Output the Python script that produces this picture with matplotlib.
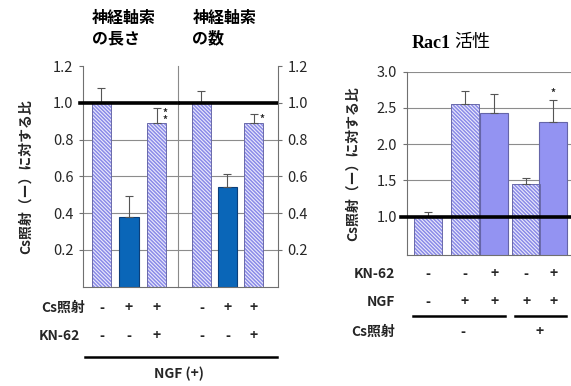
import matplotlib
matplotlib.use("Agg")
import matplotlib.pyplot as plt
from matplotlib.transforms import blended_transform_factory

plt.rcParams['font.family'] = ['Noto Sans CJK JP', 'DejaVu Sans']
plt.rcParams['hatch.linewidth'] = 1.1

# 神経軸索の長さ / 数 (NGF+)
len_vals = [1.0, 0.378, 0.889]
len_err = [0.083, 0.116, 0.084]
num_vals = [1.0, 0.54, 0.889]
num_err = [0.065, 0.073, 0.048]
cs_left = ['-', '+', '+']
kn_left = ['-', '-', '+']
left_hatched = [True, False, True]

# Rac1 活性
rac_vals = [1.0, 2.56, 2.43, 1.45, 2.30]
rac_err = [0.07, 0.175, 0.26, 0.08, 0.305]
rac_hatched = [True, True, False, True, False]
kn_right = ['-', '-', '+', '-', '+']
ngf_right = ['-', '+', '+', '+', '+']
cs_right = ['-', '+']

W, H = 571, 386
fig = plt.figure(figsize=(W / 100, H / 100), dpi=100)


def box(l, t, r, b):
    return [l / W, 1 - b / H, (r - l) / W, (b - t) / H]


def fy(py):
    return 1 - py / H


HATCH_C = '#8a8ae8'
HATCH_FACE = '#ececfb'
HATCH_EDGE = '#6a6aaa'
GRID_C = '#8c8c8c'
SPINE_C = '#707070'
TXT = '#262626'


def draw_bars(ax, xs, vals, errs, hatched, solid_c, solid_edge, width):
    for x, v, h in zip(xs, vals, hatched):
        if h:
            ax.bar(x, v, width, color=HATCH_FACE, edgecolor=HATCH_C, hatch='\\' * 9,
                   linewidth=0, zorder=2)
            ax.bar(x, v, width, fill=False, edgecolor=HATCH_EDGE, linewidth=0.7, zorder=3)
        else:
            ax.bar(x, v, width, color=solid_c, edgecolor=solid_edge, linewidth=0.8, zorder=2)
    ax.errorbar(xs, vals, yerr=[[0] * len(vals), errs], fmt='none', ecolor='#555555',
                elinewidth=0.8, capsize=3, capthick=0.8, zorder=4)


# ---- left chart ----
ax1 = fig.add_axes(box(83, 66, 178, 286.7))
ax2 = fig.add_axes(box(178, 66, 278, 286.7), sharey=ax1)
ax2.patch.set_alpha(0)
xs = [0, 1, 2]
ax1.set_xlim(-0.67, 2.78)
ax2.set_xlim(-0.9, 2.94)
ax1.set_ylim(0, 1.2)
draw_bars(ax1, xs, len_vals, len_err, left_hatched, '#0a66b8', '#0b3f7a', 0.7)
draw_bars(ax2, xs, num_vals, num_err, left_hatched, '#0a66b8', '#0b3f7a', 0.73)

for ax in (ax1, ax2):
    for g in [0.2, 0.4, 0.6, 0.8]:
        ax.axhline(g, color=GRID_C, lw=0.8, zorder=1)
    ax.set_xticks([])
    ax.spines['top'].set_visible(False)
    ax.spines['bottom'].set_color(SPINE_C)
    ax.tick_params(axis='y', direction='out', length=3, color=SPINE_C, labelsize=10.5,
                   labelcolor=TXT, pad=4)
ax1.axhline(1.0, xmin=-0.03, xmax=1, color='black', lw=2.6, zorder=5, clip_on=False)
ax2.axhline(1.0, color='black', lw=2.6, zorder=5)
ax1.spines['right'].set_color('#8a8a8a')
ax1.spines['right'].set_zorder(6)
ax1.spines['left'].set_color(SPINE_C)
ax2.spines['left'].set_visible(False)
ax2.spines['right'].set_color(SPINE_C)
ax1.set_yticks([0.2, 0.4, 0.6, 0.8, 1.0, 1.2])
ax1.set_yticklabels(['0.2', '0.4', '0.6', '0.8', '1.0', '1.2'])
ax2.yaxis.tick_right()
ax2.tick_params(axis='y', left=False, labelleft=False, right=True, labelright=True)
ax2.set_yticks([0.2, 0.4, 0.6, 0.8, 1.0, 1.2])
ax2.set_yticklabels(['0.2', '0.4', '0.6', '0.8', '1.0', '1.2'])

ax1.set_ylabel('Cs照射（ー）に対する比', fontsize=10, fontweight='bold', color=TXT, labelpad=14)

ax1.text(-0.35, fy(28), '神経軸索\nの長さ', transform=blended_transform_factory(ax1.transData, fig.transFigure),
         fontsize=11.5, fontweight='bold', ha='left', va='center', linespacing=1.3)
ax2.text(-0.35, fy(28), '神経軸索\nの数', transform=blended_transform_factory(ax2.transData, fig.transFigure),
         fontsize=11.5, fontweight='bold', ha='left', va='center', linespacing=1.3)

# significance marks
ax1.text(2 + 0.22, len_vals[2] + len_err[2], '*\n*', fontsize=7, fontweight='bold', ha='left',
         va='top', linespacing=0.7, color=TXT)
ax2.text(2 + 0.22, num_vals[2] + num_err[2], '*', fontsize=7, fontweight='bold', ha='left',
         va='top', color=TXT)

# condition rows
for ax in (ax1, ax2):
    tr = blended_transform_factory(ax.transData, fig.transFigure)
    for x, c, k in zip(xs, cs_left, kn_left):
        ax.text(x, fy(308), c, transform=tr, ha='center', va='center', fontsize=10,
                fontweight='bold', color=TXT)
        ax.text(x, fy(336), k, transform=tr, ha='center', va='center', fontsize=10,
                fontweight='bold', color=TXT)
fig.text(85 / W, fy(308), 'Cs照射', ha='right', va='center', fontsize=10, fontweight='bold', color=TXT)
fig.text(80 / W, fy(336), 'KN-62', ha='right', va='center', fontsize=10, fontweight='bold', color=TXT)
fig.add_artist(plt.Line2D([85 / W, 277 / W], [fy(357), fy(357)], color='black', lw=1.8))
fig.text(179 / W, fy(374), 'NGF (+)', ha='center', va='center', fontsize=10, fontweight='bold', color=TXT)

# ---- right chart ----
ax3 = fig.add_axes(box(406.7, 71.7, 585, 255))
rx = [0, 1.28, 2.29, 3.40, 4.33]
ax3.set_xlim(-0.73, 5.43)
ax3.set_ylim(0.47, 3.0)
draw_bars(ax3, rx, rac_vals, rac_err, rac_hatched, '#9393f2', '#6565a8', 0.95)
ax3.set_yticks([1.0, 1.5, 2.0, 2.5, 3.0])
ax3.set_yticklabels(['1.0', '1.5', '2.0', '2.5', '3.0'])
for g in [1.5, 2.0, 2.5, 3.0]:
    ax3.axhline(g, color=GRID_C, lw=0.8, zorder=1)
ax3.axhline(1.0, xmin=-0.03, color='black', lw=2.6, zorder=5, clip_on=False)
ax3.set_xticks([])
ax3.spines['top'].set_visible(False)
ax3.spines['right'].set_visible(False)
ax3.spines['left'].set_color(SPINE_C)
ax3.spines['bottom'].set_color(SPINE_C)
ax3.tick_params(axis='y', direction='out', length=3, color=SPINE_C, labelsize=10.5,
                labelcolor=TXT, pad=4)
ax3.set_ylabel('Cs照射（ー）に対する比', fontsize=10, fontweight='bold', color=TXT, labelpad=12)
ax3.text(rx[4], rac_vals[4] + rac_err[4] + 0.03, '*', fontsize=7, fontweight='bold',
         ha='center', va='bottom', color=TXT)

fig.text(451 / W, fy(43), 'Rac1', ha='right', va='center', fontsize=13, fontweight='bold',
         family='Liberation Serif')
fig.text(454 / W, fy(42), '活性', ha='left', va='center', fontsize=13)

tr3 = blended_transform_factory(ax3.transData, fig.transFigure)
for x, k, n in zip(rx, kn_right, ngf_right):
    ax3.text(x, fy(274), k, transform=tr3, ha='center', va='center', fontsize=10,
             fontweight='bold', color=TXT)
    ax3.text(x, fy(302), n, transform=tr3, ha='center', va='center', fontsize=10,
             fontweight='bold', color=TXT)
fig.text(395 / W, fy(274), 'KN-62', ha='right', va='center', fontsize=10, fontweight='bold', color=TXT)
fig.text(395 / W, fy(302), 'NGF', ha='right', va='center', fontsize=10, fontweight='bold', color=TXT)
fig.text(395 / W, fy(332), 'Cs照射', ha='right', va='center', fontsize=10, fontweight='bold', color=TXT)
fig.add_artist(plt.Line2D([413 / W, 505 / W], [fy(316), fy(316)], color='black', lw=1.8))
fig.add_artist(plt.Line2D([515 / W, 566 / W], [fy(316), fy(316)], color='black', lw=1.8))
ax3.text((rx[0] + rx[2]) / 2 + 0.05, fy(332), cs_right[0], transform=tr3, ha='center', va='center',
         fontsize=10, fontweight='bold', color=TXT)
ax3.text((rx[3] + rx[4]) / 2, fy(332), cs_right[1], transform=tr3, ha='center', va='center',
         fontsize=10, fontweight='bold', color=TXT)

fig.savefig('out.png', dpi=100)
